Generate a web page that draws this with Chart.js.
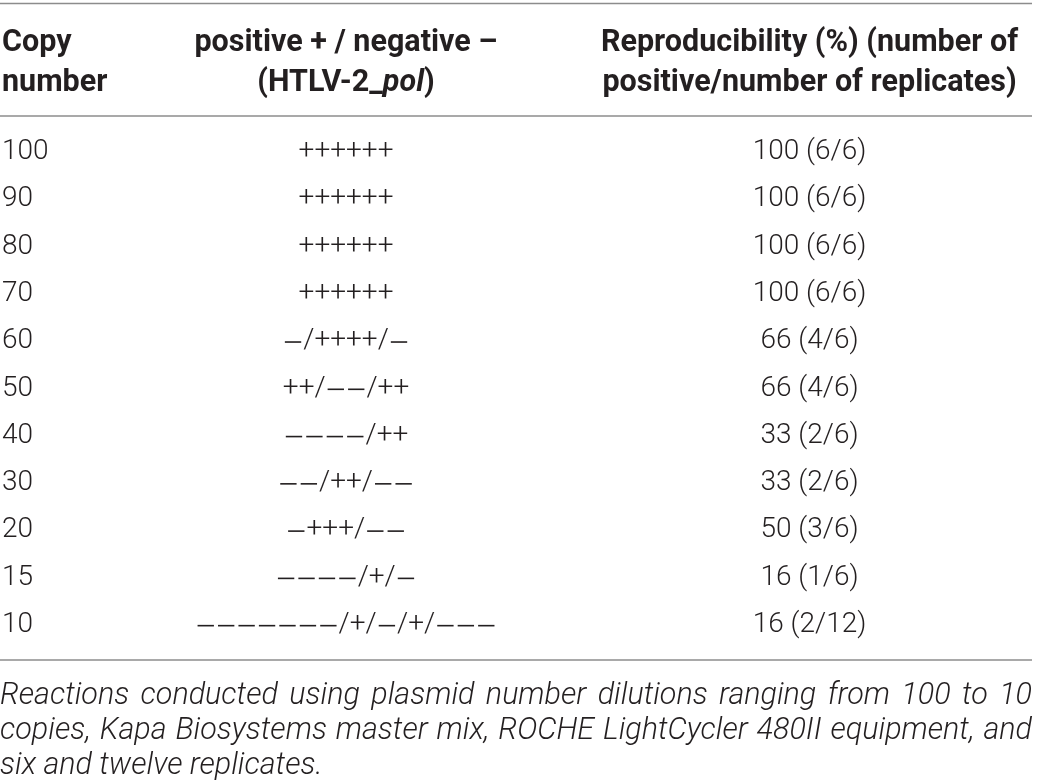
<!DOCTYPE html>
<html>
<head>
<meta charset="utf-8">
<script src="https://cdn.jsdelivr.net/npm/chart.js@4.4.1/dist/chart.umd.min.js"></script>
<style>
  html, body { margin: 0; padding: 0; background: #fff; }
  #wrap { width: 1040px; height: 784px; position: relative; }
</style>
</head>
<body>
<div id="wrap"><canvas id="tableChart"></canvas></div>
<script>
// table content
const copyNumbers = ['100', '90', '80', '70', '60', '50', '40', '30', '20', '15', '10'];
const calls = ['++++++', '++++++', '++++++', '++++++', '−/++++/−', '++/−−/++',
               '−−−−/++', '−−/++/−−', '−+++/−−', '−−−−/+/−', '−−−−−−−/+/−/+/−−−'];
const reproPercent = [100, 100, 100, 100, 66, 66, 33, 33, 50, 16, 16];
const positives = [6, 6, 6, 6, 4, 4, 2, 2, 3, 1, 2];
const replicates = [6, 6, 6, 6, 6, 6, 6, 6, 6, 6, 12];

// header lines, each line is a list of [text, italic] pieces
const headers = [
    [[['Copy', false]], [['number', false]]],
    [[['positive + / negative –', false]], [['(HTLV-2_', false], ['pol', true], [')', false]]],
    [[['Reproducibility (%) (number of', false]], [['positive/number of replicates)', false]]]
];
const footnoteLines = [
    'Reactions conducted using plasmid number dilutions ranging from 100 to 10',
    'copies, Kapa Biosystems master mix, ROCHE LightCycler 480II equipment, and',
    'six and twelve replicates.'
];

// layout
const colAnchor = [0, 33.4, 78.4];          // x scale units (0-100 across the table)
const colAlign = ['left', 'center', 'center'];
const FAMILY = 'Roboto, "Liberation Sans", sans-serif';
const SIZE = 28;
const HEAD_SIZE = 30.5;
const NOTE_SIZE = 30.5;
const DASH = SIZE * 0.73;
const TEXT = '#231f20';
const RULE = '#8c8c8c';

const cellText = [
    copyNumbers,
    calls,
    reproPercent.map((p, i) => `${p} (${positives[i]}/${replicates[i]})`)
];

// draws +/− strings with wider dash slots like the original typesetting
function callsWidth(ctx, str) {
    let w = 0;
    for (const ch of str) w += ch === '−' ? DASH : ctx.measureText(ch).width;
    return w;
}
function drawCalls(ctx, str, cx, cy) {
    let x = cx - callsWidth(ctx, str) / 2;
    ctx.textAlign = 'left';
    for (const ch of str) {
        if (ch === '−') {
            ctx.fillRect(x + DASH * 0.1, cy, DASH * 0.8, 1.6);
            x += DASH;
        } else {
            ctx.fillText(ch, x, cy);
            x += ctx.measureText(ch).width;
        }
    }
}

function drawPieces(ctx, pieces, x, y, align) {
    const fonts = pieces.map(p => `${p[1] ? 'italic ' : ''}700 ${HEAD_SIZE}px ${FAMILY}`);
    let total = 0;
    const widths = pieces.map((p, i) => { ctx.font = fonts[i]; const w = ctx.measureText(p[0]).width; total += w; return w; });
    let cur = align === 'left' ? x : x - total / 2;
    ctx.textAlign = 'left';
    pieces.forEach((p, i) => {
        ctx.font = fonts[i];
        ctx.fillText(p[0], cur, y);
        cur += widths[i];
    });
}

const tablePlugin = {
    id: 'tableText',
    afterDatasetsDraw(chart) {
        const ctx = chart.ctx;
        const area = chart.chartArea;
        const xs = chart.scales.x;
        ctx.save();

        // rules
        ctx.strokeStyle = RULE;
        ctx.lineWidth = 1.4;
        [area.top - 125, area.top - 12.5, area.bottom + 11.5].forEach(y => {
            ctx.beginPath();
            ctx.moveTo(xs.left - 2, y);
            ctx.lineTo(xs.right, y);
            ctx.stroke();
        });

        ctx.fillStyle = TEXT;
        ctx.textBaseline = 'middle';

        // header
        headers.forEach((lines, c) => {
            const x = xs.getPixelForValue(colAnchor[c]);
            lines.forEach((pieces, l) => {
                drawPieces(ctx, pieces, x, area.top - 85 + l * 40, colAlign[c]);
            });
        });

        // cells, placed at each dataset point
        ctx.font = `300 ${SIZE}px ${FAMILY}`;
        chart.data.datasets.forEach((ds, c) => {
            const meta = chart.getDatasetMeta(c);
            meta.data.forEach((el, i) => {
                const str = cellText[c][i];
                if (c === 1) {
                    drawCalls(ctx, str, el.x, el.y);
                } else {
                    ctx.textAlign = colAlign[c];
                    ctx.fillText(str, el.x, el.y);
                }
            });
        });

        // footnote, justified
        ctx.font = `italic 300 ${NOTE_SIZE}px ${FAMILY}`;
        ctx.textBaseline = 'alphabetic';
        ctx.textAlign = 'left';
        const left = xs.left - 2, right = xs.right;
        footnoteLines.forEach((line, l) => {
            const y = area.bottom + 55 + l * 35;
            const words = line.split(' ');
            const last = l === footnoteLines.length - 1;
            const wordW = words.map(w => ctx.measureText(w).width);
            const sum = wordW.reduce((a, b) => a + b, 0);
            const gap = last ? ctx.measureText(' ').width : (right - left - sum) / (words.length - 1);
            let x = left;
            words.forEach((w, i) => {
                ctx.fillText(w, x, y);
                x += wordW[i] + gap;
            });
        });

        ctx.restore();
    }
};

const ctx = document.getElementById('tableChart').getContext('2d');
const tableChart = new Chart(ctx, {
    type: 'scatter',
    data: {
        datasets: cellText.map((col, c) => ({
            label: `col${c}`,
            data: copyNumbers.map(n => ({ x: colAnchor[c], y: n })),
            pointRadius: 0,
            pointHoverRadius: 0
        }))
    },
    options: {
        responsive: true,
        maintainAspectRatio: false,
        animation: false,
        events: [],
        layout: { padding: { left: 2, right: 8, top: 128.5, bottom: 135.5 } },
        scales: {
            x: { type: 'linear', min: 0, max: 100, display: false },
            y: { type: 'category', labels: copyNumbers, offset: true, display: false }
        },
        plugins: {
            legend: { display: false },
            tooltip: { enabled: false }
        }
    },
    plugins: [tablePlugin]
});
</script>
</body>
</html>
